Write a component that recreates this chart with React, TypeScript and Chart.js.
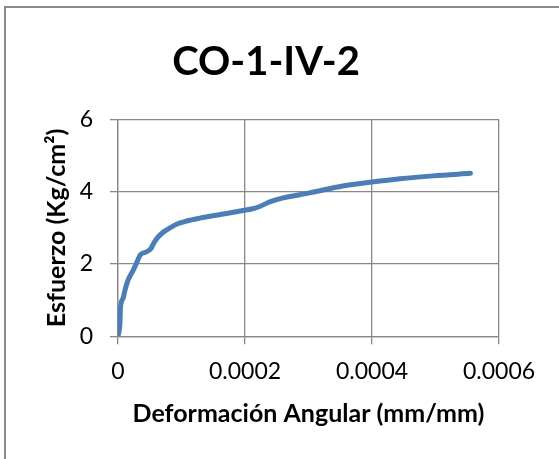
import React, { useEffect, useRef } from "react";
import { Chart, registerables } from "chart.js";

Chart.register(...registerables);

const chartTitle = "CO-1-IV-2";
const xAxisTitle = "Deformación Angular (mm/mm)";
const yAxisTitle = "Esfuerzo (Kg/cm²)";

// Deformación angular (mm/mm)
const strain = [
  0, 0.000003, 0.000004, 0.000008, 0.000011, 0.000016, 0.000024, 0.00003,
  0.000035, 0.000045, 0.000052, 0.000056, 0.00006, 0.000066, 0.000072,
  0.00008, 0.000092, 0.000108, 0.000129, 0.000161, 0.000197, 0.000212,
  0.000224, 0.000239, 0.00026, 0.000302, 0.000354, 0.0004, 0.000444,
  0.000496, 0.000555,
];
// Esfuerzo (Kg/cm²)
const stress = [
  0, 0.36, 0.82, 1.05, 1.28, 1.56, 1.83, 2.06, 2.25, 2.34, 2.43, 2.57, 2.68,
  2.8, 2.89, 2.98, 3.1, 3.19, 3.27, 3.37, 3.48, 3.53, 3.6, 3.72, 3.83, 3.97,
  4.16, 4.27, 4.36, 4.44, 4.51,
];

const xTickLabels = ["0", "0.0002", "0.0004", "0.0006"];
const yTickLabels = ["0", "2", "4", "6"];

const FONT = "Lato, 'Open Sans', sans-serif";
const GRID = "#888888";

const titlePlugin = {
  id: "customTitle",
  afterDraw(chart: any) {
    const ctx = chart.ctx;
    ctx.save();
    ctx.font = `bold 40px ${FONT}`;
    ctx.fillStyle = "#000";
    ctx.textAlign = "center";
    ctx.textBaseline = "alphabetic";
    ctx.fillText(chartTitle, 266, 75);
    ctx.restore();
  },
};

export default function App() {
  const ref = useRef<HTMLCanvasElement | null>(null);

  useEffect(() => {
    if (!ref.current) return;
    const points = strain.map((x, i) => ({ x, y: stress[i] }));
    const chart = new Chart(ref.current, {
      type: "line",
      data: {
        datasets: [
          {
            data: points,
            borderColor: "#4A7EBB",
            backgroundColor: "#4A7EBB",
            borderWidth: 5,
            pointRadius: 0,
            cubicInterpolationMode: "monotone",
            borderCapStyle: "round",
            borderJoinStyle: "round",
          },
        ],
      },
      plugins: [titlePlugin],
      options: {
        animation: false,
        responsive: false,
        maintainAspectRatio: false,
        devicePixelRatio: 1,
        layout: { padding: { left: 0, right: 60, top: 119.5, bottom: 0 } },
        plugins: {
          legend: { display: false },
          tooltip: { enabled: false },
          title: { display: false },
        },
        scales: {
          x: {
            type: "linear",
            min: 0,
            max: 0.0006,
            afterFit: (s: any) => {
              s.height = 459 - 336.3;
            },
            afterBuildTicks: (s: any) => {
              s.ticks = xTickLabels.map((_, i) => ({ value: i * 0.0002 }));
            },
            ticks: {
              color: "#000",
              font: { family: FONT, size: 23 },
              padding: 13,
              maxRotation: 0,
              callback: (_v: any, i: number) => xTickLabels[i],
            },
            grid: {
              color: GRID,
              lineWidth: 1.3,
              tickLength: 8,
              drawTicks: true,
            },
            border: { color: GRID, width: 1.3 },
            title: {
              display: true,
              text: xAxisTitle,
              color: "#000",
              font: { family: FONT, size: 25, weight: "bold" },
              padding: { top: 0, bottom: 30.5 },
            },
          },
          y: {
            type: "linear",
            min: 0,
            max: 6,
            afterFit: (s: any) => {
              s.width = 118;
            },
            afterBuildTicks: (s: any) => {
              s.ticks = yTickLabels.map((_, i) => ({ value: i * 2 }));
            },
            ticks: {
              color: "#000",
              font: { family: FONT, size: 23 },
              padding: 17,
              callback: (_v: any, i: number) => yTickLabels[i],
            },
            grid: {
              color: GRID,
              lineWidth: 1.3,
              tickLength: 8,
              drawTicks: true,
            },
            border: { color: GRID, width: 1.3 },
            title: {
              display: true,
              text: yAxisTitle,
              color: "#000",
              font: { family: FONT, size: 25, weight: "bold" },
              padding: { top: 41.5, bottom: 0 },
            },
          },
        },
      },
    });
    return () => chart.destroy();
  }, []);

  return (
    <div
      style={{
        position: "fixed",
        left: 0,
        top: 0,
        width: 559,
        height: 459,
        overflow: "hidden",
        background: "#fff",
      }}
    >
      <div
        style={{
          position: "absolute",
          left: 4,
          top: 6,
          width: 700,
          height: 700,
          borderTop: "2px solid #8a8a8a",
          borderLeft: "2px solid #8a8a8a",
          boxSizing: "border-box",
        }}
      />
      <canvas
        ref={ref}
        width={559}
        height={459}
        style={{ position: "absolute", left: 0, top: 0, width: 559, height: 459 }}
      />
    </div>
  );
}
